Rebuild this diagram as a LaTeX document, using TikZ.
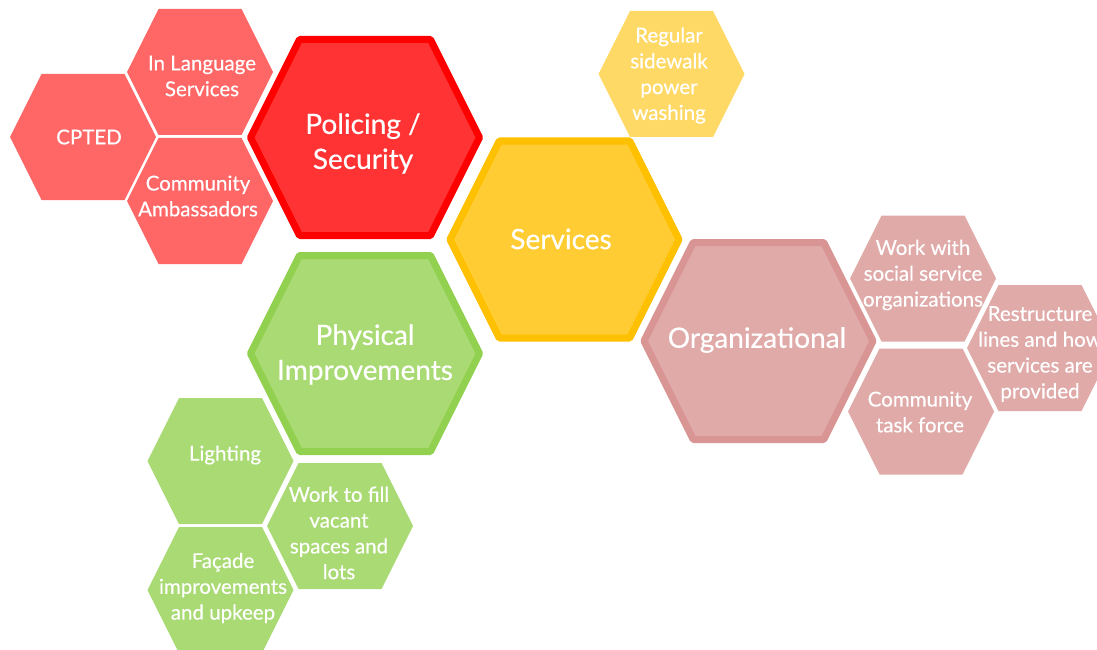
\documentclass[tikz,border=0pt]{standalone}
\usepackage{fontspec}
\setmainfont{Lato}[FakeBold=0.4]
\newfontfamily\hexfont{Lato}[FakeBold=0.4]
\definecolor{redS}{HTML}{FF6666}
\definecolor{redF}{HTML}{FF3333}
\definecolor{redD}{HTML}{FF0000}
\definecolor{yelF}{HTML}{FFCC33}
\definecolor{yelD}{HTML}{FFC000}
\definecolor{yelS}{HTML}{FFD966}
\definecolor{pinkF}{HTML}{E0AAA9}
\definecolor{pinkD}{HTML}{D99594}
\definecolor{grnF}{HTML}{A9DA74}
\definecolor{grnD}{HTML}{92D050}
\newcommand\hexpath[5]{%
  \path[#5] ({#1-#3},#2) -- ({#1-#3+#4/2},{#2-#4}) -- ({#1+#3-#4/2},{#2-#4}) -- ({#1+#3},#2) -- ({#1+#3-#4/2},{#2+#4}) -- ({#1-#3+#4/2},{#2+#4}) -- cycle;}
\begin{document}
\begin{tikzpicture}[x=1pt,y=-1pt,
  small/.style={fill=#1},
  big/.style={fill=#1, line width=7pt, line join=round},
  stxt/.style={text=white, align=center, font=\hexfont\fontsize{20.5}{25.8}\selectfont, inner sep=0pt},
  btxt/.style={text=white, align=center, font=\hexfont\fontsize{28}{35}\selectfont, inner sep=0pt}]
\useasboundingbox (0,0) rectangle (1097,650);
\clip (0,0) rectangle (1097,650);
% red group
\hexpath{83}{137}{73}{63}{small=redS}
\hexpath{200}{72}{73}{63}{small=redS}
\hexpath{200}{201}{73}{63}{small=redS}
\hexpath{365}{137.5}{114.5}{98}{big=redF, draw=redD}
% yellow group
\hexpath{564.5}{239.5}{114.5}{98.5}{big=yelF, draw=yelD}
\hexpath{671.5}{74}{73}{63}{small=yelS}
% pink group
\hexpath{758.5}{341}{114.5}{98.5}{big=pinkF, draw=pinkD}
\hexpath{923}{278.5}{73}{63}{small=pinkF}
\hexpath{921}{411.5}{73}{63}{small=pinkF}
\hexpath{1040}{348}{73}{63}{small=pinkF}
% green group
\hexpath{365}{353.5}{114.5}{98}{big=grnF, draw=grnD}
\hexpath{220.5}{461}{73}{63}{small=grnF}
\hexpath{340}{526}{73}{63}{small=grnF}
\hexpath{220.5}{590}{73}{63}{small=grnF}
% texts
\node[stxt] (cpted) at (89,137) {CPTED};
\node[stxt] (inlang) at (202,76) {In Language\\Services};
\node[stxt] (amb) at (198,196) {Community\\Ambassadors};
\node[btxt] (police) at (363,143.5) {Policing /\\Security};
\node[btxt] (serv) at (561,239) {Services};
\node[stxt] (wash) at (669,75.5) {Regular\\sidewalk\\power\\washing};
\node[btxt] (org) at (757,340) {Organizational};
\node[stxt] (social) at (923,275) {Work with\\social service\\organizations};
\node[stxt] (task) at (920,412) {Community\\task force};
\node[stxt] (restr) at (1040,354) {Restructure\\lines and how\\services are\\provided};
\node[btxt] (phys) at (365,354.5) {Physical\\Improvements};
\node[stxt] (light) at (225,455) {Lighting};
\node[stxt] (fill) at (339,533) {Work to fill\\vacant\\spaces and\\lots};
\node[stxt] (facade) at (223,588) {Façade\\improvements\\and upkeep};
\end{tikzpicture}
\end{document}
